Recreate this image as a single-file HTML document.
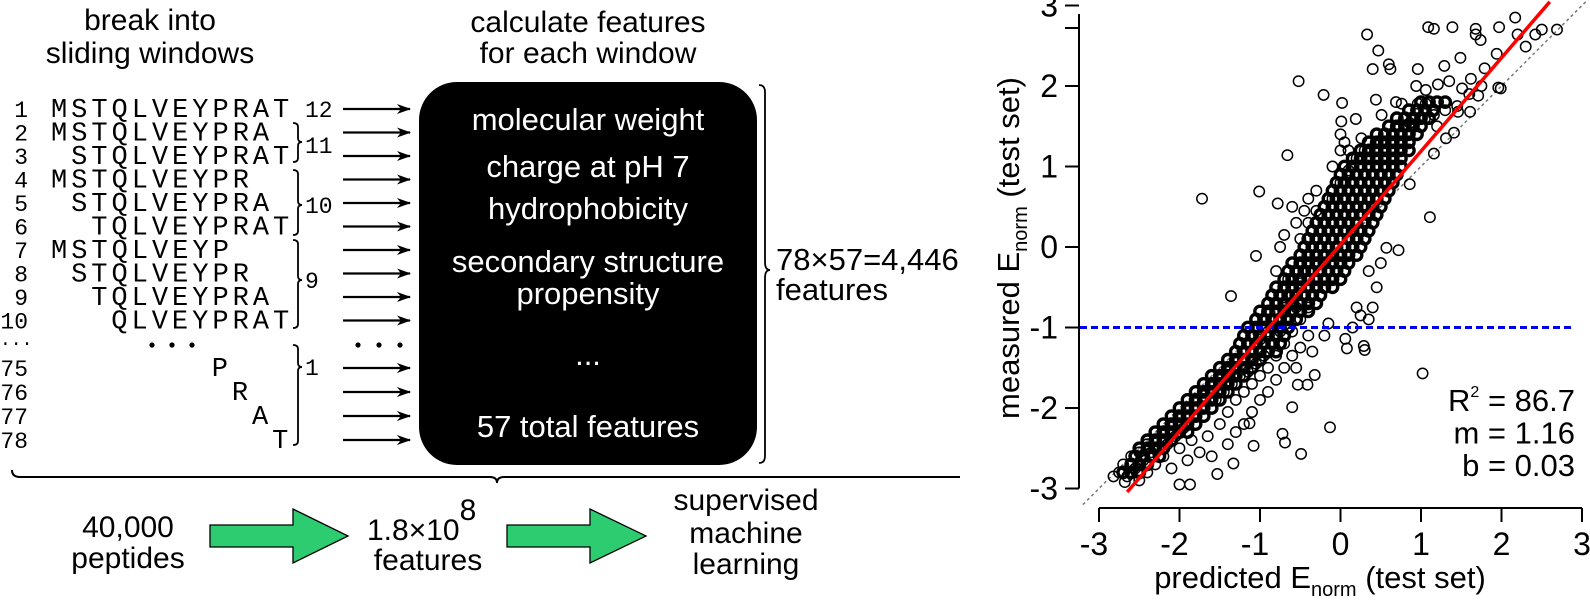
<!DOCTYPE html>
<html><head><meta charset="utf-8"><style>
html,body{margin:0;padding:0;background:#fff;}
svg{display:block;font-family:"Liberation Sans",sans-serif;}
.mono{font-family:"Liberation Mono",monospace;}
</style></head><body>
<svg id="fig" width="1590" height="603" viewBox="0 0 1590 603" xmlns="http://www.w3.org/2000/svg">
<defs><marker id="ah" markerWidth="14" markerHeight="10" refX="13" refY="5" orient="auto" markerUnits="userSpaceOnUse"><path d="M0,0 L14,5 L0,10 L4,5 Z" fill="#000"/></marker></defs>
<g>
<text x="150" y="30" font-size="30" text-anchor="middle">break into</text>
<text x="150" y="63" font-size="30" text-anchor="middle">sliding windows</text>
<text x="588" y="32" font-size="30" text-anchor="middle">calculate features</text>
<text x="588" y="63" font-size="30" text-anchor="middle">for each window</text>
<g id="seq"></g>
<rect x="419" y="82" width="338" height="383" rx="38" ry="38" fill="#000"/>
<g fill="#fff" font-size="31" text-anchor="middle">
<text x="588" y="130">molecular weight</text>
<text x="588" y="177">charge at pH 7</text>
<text x="588" y="219">hydrophobicity</text>
<text x="588" y="272">secondary structure</text>
<text x="588" y="304">propensity</text>
<text x="588" y="365">...</text>
<text x="588" y="437">57 total features</text>
</g>
<path d="M759,85 Q765,85 765,92 L765,262 Q765,270 770,270 Q765,270 765,278 L765,456 Q765,463 759,463" fill="none" stroke="#000" stroke-width="1.8"/>
<text x="776" y="270" font-size="31">78×57=4,446</text>
<text x="776" y="300" font-size="31">features</text>
<path d="M12,470 Q12,477 20,477 L490,477 Q497,477 497,483 Q497,477 504,477 L960,477" fill="none" stroke="#000" stroke-width="2"/>
<text x="128" y="537" font-size="30" text-anchor="middle">40,000</text>
<text x="128" y="568" font-size="30" text-anchor="middle">peptides</text>
<path d="M210,525 L293,525 L293,509 L348,536 L293,563 L293,547 L210,547 Z" fill="#2ecc71" stroke="#000" stroke-width="1.3"/>
<text x="367" y="540" font-size="30">1.8×10<tspan font-size="30" dy="-20">8</tspan></text>
<text x="428" y="570" font-size="30" text-anchor="middle">features</text>
<path d="M507,525 L590,525 L590,509 L646,536 L590,563 L590,547 L507,547 Z" fill="#2ecc71" stroke="#000" stroke-width="1.3"/>
<text x="746" y="510" font-size="30" text-anchor="middle">supervised</text>
<text x="746" y="543" font-size="30" text-anchor="middle">machine</text>
<text x="746" y="574" font-size="30" text-anchor="middle">learning</text>
</g>
<g id="chart"></g>
</svg>
<script>
// ---- sequence windows ----
const seqNums = [1,2,3,4,5,6,7,8,9,10,75,76,77,78];
const seqOffsets = [0,0,1,0,1,2,0,1,2,3,8,9,10,11];
const seqStrings = ['MSTQLVEYPRAT','MSTQLVEYPRA','STQLVEYPRAT','MSTQLVEYPR','STQLVEYPRA','TQLVEYPRAT','MSTQLVEYP','STQLVEYPR','TQLVEYPRA','QLVEYPRAT','P','R','A','T'];
const NS='http://www.w3.org/2000/svg';
function mk(tag, attrs, parent){const e=document.createElementNS(NS,tag);for(const k in attrs)e.setAttribute(k,attrs[k]);parent.appendChild(e);return e;}
const seq=document.getElementById('seq');
const CW=20.1;
seqNums.forEach((n,i)=>{
  const by = i<10 ? 117+23.5*i : 376+24*(i-10);
  const t1=mk('text',{x:28,y:by,'font-size':23,'text-anchor':'end',class:'mono'},seq);
  
  
  t1.textContent=n;
  const s=seqStrings[i];
  const t2=mk('text',{x:51+seqOffsets[i]*CW,y:by,'font-size':27,class:'mono',textLength:(s.length*CW-3).toFixed(1),lengthAdjust:'spacing'},seq);
  
  
  t2.textContent=s;
  const a=mk('line',{x1:343,x2:410,y1:by-8,y2:by-8,stroke:'#000','stroke-width':2.2,'marker-end':'url(#ah)'},seq);
  
  
});
const bracketSpans=[[123,162,142,'11',153],[170,235,205,'10',213],[240,328,280,'9',288],[345,445,367,'1',375]];
bracketSpans.forEach(b=>{
  const p=mk('path',{d:`M293,${b[0]} Q298,${b[0]} 298,${b[0]+4} L298,${b[2]-4} Q298,${b[2]} 302,${b[2]} Q298,${b[2]} 298,${b[2]+4} L298,${b[1]-4} Q298,${b[1]} 293,${b[1]}`,fill:'none',stroke:'#000','stroke-width':1.8},seq);
  
  
  const t=mk('text',{x:305,y:b[4],'font-size':23,class:'mono'},seq);
  
  
  t.textContent=b[3];
});
const t12=mk('text',{x:305,y:117,'font-size':23,class:'mono'},seq);


t12.textContent='12';
const d1=mk('text',{x:0,y:345,'font-size':18,class:'mono'},seq);


d1.textContent='...';
[152,172,192,358,379,400].forEach(x=>{const c=mk('circle',{cx:x,cy:345,r:2.6,fill:'#000'},seq);

});

// ---- scatter chart data ----
const xTicks=[-3,-2,-1,0,1,2,3];
const yTicks=[-3,-2,-1,0,1,2,3];
const fitSlope=1.16;
const fitIntercept=0.03;
const thresholdY=-1;
const statLabels=['R² = 86.7','m = 1.16','b = 0.03'];
const outliers=[[0.33,2.64],[0.47,2.44],[1.09,2.73],[1.16,2.71],[1.39,2.73],[1.68,2.71],[1.68,2.64],[1.74,2.57],[1.97,2.73],[2.17,2.85],[2.2,2.64],[2.3,2.49],[2.42,2.64],[2.5,2.7],[2.69,2.7],
[-0.52,2.06],[-0.21,1.89],[0.02,1.79],[-0.66,1.14],[-1.72,0.6],[-1.01,0.69],[-0.78,0.54],[-1.05,-0.11],[-1.36,-0.61],[1.11,0.37],[0.57,-0.01],[0.72,-0.04],[1.02,-1.57],[-0.13,-2.24],[-0.49,-2.57],[-0.6,-1.99],[-0.72,-2.32],[-0.69,-2.43],[-0.41,-1.71],[-0.53,-1.71],[-0.32,-1.59],[0.29,-1.23],[0.3,-1.28],[0.06,-1.14],[0.08,-1.26],[-1.53,-2.82],[-2.0,-2.95],[-1.87,-2.95],[-2.82,-2.85],[-2.68,-2.92],[-1.33,-2.69],[-1.13,-2.19],[-1.08,-2.47],
[0.4,2.21],[0.44,1.83],[0.6,2.27],[0.62,2.21],[0.69,1.8],[0.76,1.78],[0.96,2.21],[0.94,2.0],[1.06,1.95],[1.21,2.02],[1.29,2.25],[1.35,2.06],[1.49,2.35],[1.51,1.97],[1.62,2.09],[1.79,2.22],[1.94,2.4],[1.96,1.98],[1.99,1.97],[1.71,1.88],[1.46,1.68],[1.61,1.68],[1.41,1.42],[1.31,1.35],[1.16,1.64],[0.96,1.78],[1.06,1.78],[0.01,1.56],[0.19,1.59],[0.51,1.64],[0.86,1.54],[0.71,1.49],[0.26,1.35],[1.16,1.16],[0.86,0.78]];
const bandPoints=[[-2.75,-2.8],[-2.7,-2.7],[-2.65,-2.85],[-2.6,-2.6],[-2.55,-2.75],[-2.5,-2.55],[-2.5,-2.9],[-2.45,-2.65],[-2.4,-2.45],[-2.4,-2.8],[-2.35,-2.55],[-2.3,-2.4],[-2.3,-2.7],[-2.25,-2.5],[-2.2,-2.3],[-2.2,-2.6],[-2.15,-2.45],[-2.1,-2.2],[-2.1,-2.75],[-2.05,-2.35],[-2.0,-2.1],[-2.0,-2.5],[-1.95,-2.25],[-1.9,-2.0],[-1.9,-2.65],[-1.85,-2.4],[-1.8,-1.9],[-1.8,-2.2],[-1.75,-2.55],[-1.7,-1.85],[-1.7,-2.1],[-1.65,-2.35],[-1.6,-1.7],[-1.6,-2.0],[-1.6,-2.6],[-1.55,-1.9],[-1.5,-1.65],[-1.5,-2.2],[-1.45,-1.8],[-1.4,-1.55],[-1.4,-2.05],[-1.4,-2.45],[-1.35,-1.7],[-1.3,-1.5],[-1.3,-1.9],[-1.3,-2.3],[-1.25,-1.6],[-1.2,-1.4],[-1.2,-1.8],[-1.2,-2.2],[-1.15,-1.55],[-1.1,-1.3],[-1.1,-1.7],[-1.1,-2.05],[-1.05,-1.45],[-1.0,-1.15],[-1.0,-1.6],[-1.0,-1.9],[-0.95,-1.35],[-0.9,-1.05],[-0.9,-1.5],[-0.9,-1.8],[-0.85,-1.2],[-0.8,-0.9],[-0.8,-1.35],[-0.8,-1.65],[-0.75,-1.05],[-0.7,-0.75],[-0.7,-1.2],[-0.7,-1.5],[-0.65,-0.9],[-0.6,-0.6],[-0.6,-1.05],[-0.6,-1.35],[-0.6,-0.2],[-0.55,-0.75],[-0.5,-0.45],[-0.5,-0.9],[-0.5,-1.25],[-0.5,0.1],[-0.45,-0.6],[-0.4,-0.3],[-0.4,-0.75],[-0.4,-1.1],[-0.4,0.3],[-0.3,0.45],[-0.2,0.5],[-0.1,0.6],[0,0.8],[0.1,0.95],[0.2,1.1],[0.3,1.2],[0.5,1.3],[0.75,1.4],[0.85,1.5],[1.05,1.6],[1.2,1.5],[1.3,1.7],[1.45,1.75],[1.6,1.9],[1.75,2.0],[-0.6,0.5],[-0.55,0.3],[-0.7,0.15],[-0.8,-0.3],[-0.75,0.0],[-0.65,-0.4],[-0.45,0.45],[-0.3,0.7],[-0.1,1.0],[0,1.2],[0.05,1.3],[0.25,-0.85],[0.35,-0.3],[-0.2,-1.1],[-0.35,-1.3],[0.35,-0.9],[0.15,-1.0],[-0.55,-1.5],[0.0,1.4],[0.1,1.2],[-0.4,0.6],[0.45,-0.5],[0.5,-0.2],[0.4,-0.75],[-0.15,-0.95],[0.2,-0.75]];
const coreRowY=[-2.8,-2.7,-2.6,-2.5,-2.4,-2.3,-2.2,-2.1,-2.0,-1.9,-1.8,-1.7,-1.6,-1.5,-1.4,-1.3,-1.2,-1.1,-1.0,-0.9,-0.8,-0.7,-0.6,-0.5,-0.4,-0.3,-0.2,-0.1,0.0,0.1,0.2,0.3,0.4,0.5,0.6,0.7,0.8,0.9,1.0,1.1,1.2,1.3,1.4,1.5,1.6,1.7,1.8];
const coreRowX=[
[-2.7,-2.6,-2.5],[-2.6,-2.5,-2.4],[-2.55,-2.45,-2.35,-2.25],[-2.5,-2.4,-2.3,-2.2],[-2.4,-2.3,-2.2,-2.1],
[-2.3,-2.2,-2.1,-2.0,-1.9],[-2.2,-2.1,-2.0,-1.9,-1.8],[-2.1,-2.0,-1.9,-1.8,-1.7],[-2.0,-1.9,-1.8,-1.7,-1.6],[-1.9,-1.8,-1.7,-1.6,-1.5],
[-1.8,-1.7,-1.6,-1.5,-1.4],[-1.7,-1.6,-1.5,-1.4,-1.3],[-1.6,-1.5,-1.4,-1.3,-1.2],[-1.5,-1.4,-1.3,-1.2,-1.1],[-1.4,-1.3,-1.2,-1.1,-1.0],
[-1.3,-1.2,-1.1,-1.0,-0.9,-0.8],[-1.25,-1.15,-1.05,-0.95,-0.85,-0.75],[-1.2,-1.1,-1.0,-0.9,-0.8,-0.7],[-1.15,-1.05,-0.95,-0.85,-0.75,-0.65],[-1.05,-0.95,-0.85,-0.75,-0.65,-0.55],
[-1.0,-0.9,-0.8,-0.7,-0.6,-0.5,-0.4],[-0.9,-0.8,-0.7,-0.6,-0.5,-0.4,-0.3],[-0.85,-0.75,-0.65,-0.55,-0.45,-0.35,-0.25],[-0.8,-0.7,-0.6,-0.5,-0.4,-0.3,-0.2,-0.1],[-0.7,-0.6,-0.5,-0.4,-0.3,-0.2,-0.1,0.0],
[-0.65,-0.55,-0.45,-0.35,-0.25,-0.15,-0.05,0.05],[-0.6,-0.5,-0.4,-0.3,-0.2,-0.1,0.0,0.1],[-0.5,-0.4,-0.3,-0.2,-0.1,0.0,0.1,0.2],[-0.45,-0.35,-0.25,-0.15,-0.05,0.05,0.15,0.25],[-0.4,-0.3,-0.2,-0.1,0.0,0.1,0.2,0.3],
[-0.35,-0.25,-0.15,-0.05,0.05,0.15,0.25,0.35],[-0.3,-0.2,-0.1,0.0,0.1,0.2,0.3,0.4],[-0.25,-0.15,-0.05,0.05,0.15,0.25,0.35,0.45],[-0.2,-0.1,0.0,0.1,0.2,0.3,0.4,0.5],[-0.15,-0.05,0.05,0.15,0.25,0.35,0.45,0.55],
[-0.1,0.0,0.1,0.2,0.3,0.4,0.5,0.6],[-0.05,0.05,0.15,0.25,0.35,0.45,0.55,0.65],[0.0,0.1,0.2,0.3,0.4,0.5,0.6,0.7],[0.05,0.15,0.25,0.35,0.45,0.55,0.65,0.75],[0.15,0.25,0.35,0.45,0.55,0.65,0.75],
[0.25,0.35,0.45,0.55,0.65,0.75,0.85],[0.35,0.45,0.55,0.65,0.75,0.85],[0.45,0.55,0.65,0.75,0.85,0.95],[0.6,0.7,0.8,0.9,1.0],[0.7,0.8,0.9,1.0,1.1],
[0.85,0.95,1.05,1.15],[1.0,1.1,1.2,1.3]];

const X=v=>1340.5+80.5*v;
const Y=v=>247-80.5*v;
const ch=document.getElementById('chart');
const ya=mk('line',{x1:1079,x2:1079,y1:14,y2:Y(-3),stroke:'#000','stroke-width':2},ch);


const xa=mk('line',{x1:X(-3),x2:X(3),y1:508,y2:508,stroke:'#000','stroke-width':2},ch);


const extraTick=mk('line',{x1:1065,x2:1079,y1:28,y2:28,stroke:'#000','stroke-width':2},ch);


yTicks.forEach(v=>{
  const t=mk('line',{x1:1065,x2:1079,y1:Y(v),y2:Y(v),stroke:'#000','stroke-width':2},ch);
  
  
  const l=mk('text',{x:1058,y:Y(v)+11,'font-size':32,'text-anchor':'end'},ch);
  
  
  l.textContent=v;
});
xTicks.forEach(v=>{
  const t=mk('line',{x1:X(v),x2:X(v),y1:508,y2:522,stroke:'#000','stroke-width':2},ch);
  
  
  const l=mk('text',{x:X(v)-(v<0?5:0),y:555,'font-size':32,'text-anchor':'middle'},ch);
  
  
  l.textContent=v;
});
const id=mk('line',{x1:X(-3.2),y1:Y(-3.2),x2:X(3.1),y2:Y(3.1),stroke:'#777','stroke-width':1.5,'stroke-dasharray':'3,3'},ch);


const pg=mk('g',{fill:'none',stroke:'#000','stroke-width':1.5},ch);


function dot(x,y,sw){
  const c=mk('circle',{cx:X(x).toFixed(1),cy:Y(y).toFixed(1),r:5.2,'stroke-width':sw},pg);
  
  
}
coreRowY.forEach((y,i)=>coreRowX[i].forEach(x=>dot(x,y,3.4)));
bandPoints.concat(outliers).forEach(p=>dot(p[0],p[1],1.5));
const th=mk('line',{x1:1080,x2:1572,y1:Y(thresholdY),y2:Y(thresholdY),stroke:'#0000ee','stroke-width':3,'stroke-dasharray':'7,4'},ch);


const fx0=-2.65, fx1=2.6;
const fit=mk('line',{x1:X(fx0),y1:Y(fitSlope*fx0+fitIntercept),x2:X(fx1),y2:Y(fitSlope*fx1+fitIntercept),stroke:'#ff0000','stroke-width':3.5},ch);


statLabels.forEach((s,i)=>{
  const t=mk('text',{x:1575,y:411+32.5*i,'font-size':31,'text-anchor':'end'},ch);
  
  
  if(i===0){t.innerHTML='R<tspan font-size="16" dy="-14">2</tspan><tspan dy="14"> = 86.7</tspan>';}
  else t.textContent=s;
});
const xt=mk('text',{x:1320,y:588,'font-size':31,'text-anchor':'middle'},ch);


xt.innerHTML='predicted E<tspan font-size="20" dy="8">norm</tspan><tspan dy="-8"> (test set)</tspan>';
const yt=mk('text',{x:0,y:0,'font-size':31,'text-anchor':'middle',transform:'translate(1019,248) rotate(-90)'},ch);


yt.innerHTML='measured E<tspan font-size="20" dy="8">norm</tspan><tspan dy="-8"> (test set)</tspan>';
</script>
</body></html>
